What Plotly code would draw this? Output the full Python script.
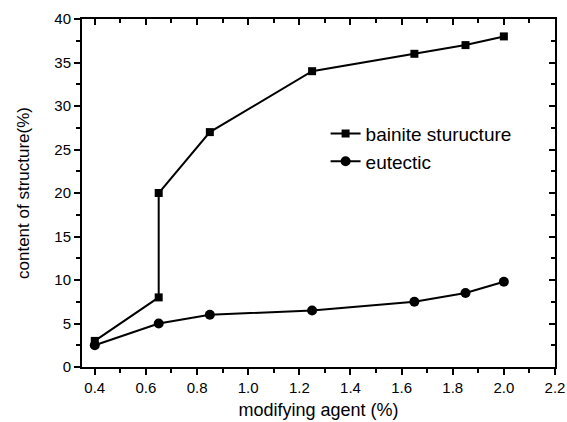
import plotly.graph_objects as go

bainite_x = [0.4, 0.65, 0.65, 0.85, 1.25, 1.65, 1.85, 2.0]
bainite_y = [3, 8, 20, 27, 34, 36, 37, 38]
eutectic_x = [0.4, 0.65, 0.85, 1.25, 1.65, 1.85, 2.0]
eutectic_y = [2.5, 5, 6, 6.5, 7.5, 8.5, 9.8]

font = "Liberation Sans, Arial, sans-serif"
fig = go.Figure()
fig.add_trace(go.Scatter(x=bainite_x, y=bainite_y, mode="lines+markers", name="bainite sturucture",
                         line=dict(color="black", width=2), marker=dict(symbol="square", size=8, color="black")))
fig.add_trace(go.Scatter(x=eutectic_x, y=eutectic_y, mode="lines+markers", name="eutectic",
                         line=dict(color="black", width=2), marker=dict(symbol="circle", size=10, color="black")))
# invisible trace for mirror axes
fig.add_trace(go.Scatter(x=[None], y=[None], xaxis="x2", yaxis="y2", showlegend=False))

common = dict(showgrid=False, zeroline=False, showline=True, linecolor="black", linewidth=2,
              tickcolor="black", tickwidth=1.5, ticklen=6, automargin=False)
fig.update_layout(
    width=567, height=422, margin=dict(l=82, r=12, t=19, b=55),
    paper_bgcolor="white", plot_bgcolor="white",
    font=dict(family=font, size=15, color="black"),
    xaxis=dict(range=[0.35, 2.2], tick0=0.4, dtick=0.2, tickformat=".1f", ticks="outside",
               minor=dict(dtick=0.1, tick0=0.4, ticks="outside", ticklen=4, tickcolor="black"),
               title=dict(text="modifying agent (%)", font=dict(size=18), standoff=8), **common),
    yaxis=dict(range=[0, 40], dtick=5, ticks="outside",
               minor=dict(dtick=2.5, ticks="outside", ticklen=4, tickcolor="black"),
               title=dict(text="content of structure(%)", font=dict(size=17), standoff=20), **common),
    xaxis2=dict(range=[0.35, 2.2], tick0=0.4, dtick=0.2, ticks="inside", overlaying="x", side="top",
                showticklabels=False, minor=dict(dtick=0.1, tick0=0.4, ticks="inside", ticklen=4, tickcolor="black"),
                **common),
    yaxis2=dict(range=[0, 40], dtick=5, ticks="inside", overlaying="y", side="right", anchor="x",
                showticklabels=False, minor=dict(dtick=2.5, ticks="inside", ticklen=4, tickcolor="black"),
                **common),
    legend=dict(x=0.515, y=0.725, xanchor="left", yanchor="top", bgcolor="rgba(0,0,0,0)",
                font=dict(size=19), tracegroupgap=2),
)
fig.write_html("out.html")
